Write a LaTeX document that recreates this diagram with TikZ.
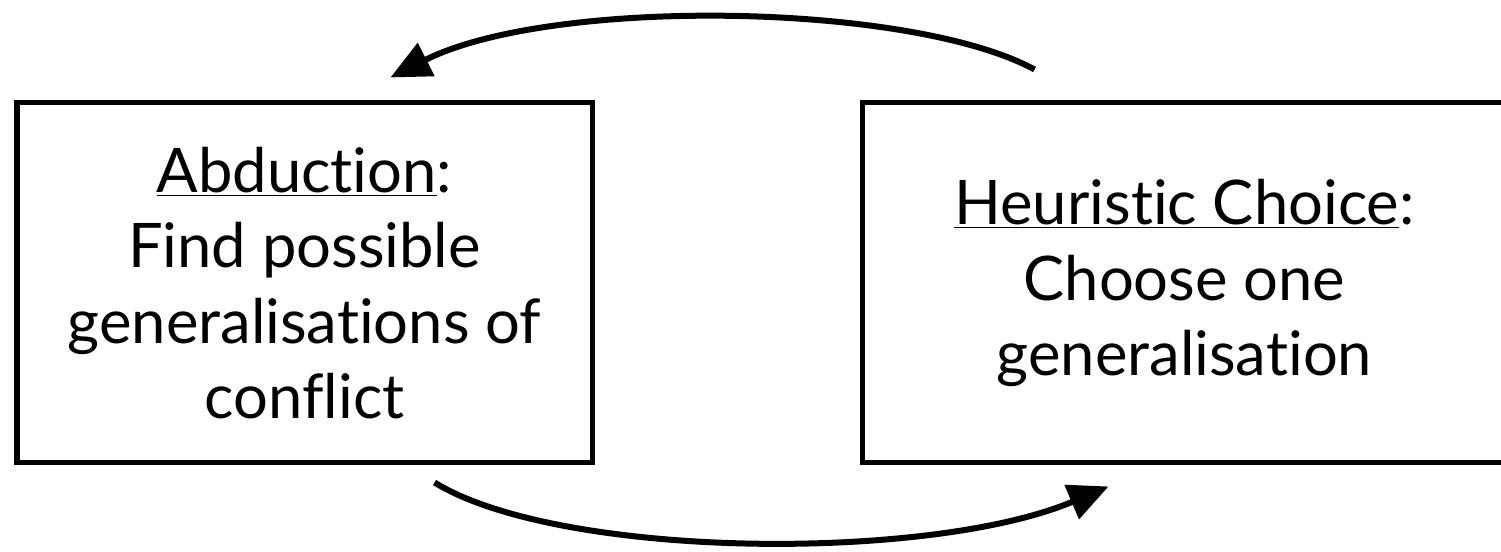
\documentclass[tikz,border=0pt]{standalone}
\usepackage{fontspec}
\setmainfont{Lato}[Ligatures=NoCommon]
\usepackage{tikz}
\usetikzlibrary{arrows.meta,positioning}

\begin{document}
\begin{tikzpicture}[
      every node/.style={font=\fontsize{35}{43}\selectfont},
      stagebox/.style={draw,line width=0.1cm,minimum height=7.2cm,align=center,inner sep=0pt},
      looparrow/.style={line width=0.12cm,-{Triangle[length=0.8cm,width=0.72cm]}},
  ]
    \useasboundingbox (0,0) rectangle (30.02,11.04);
    \node[stagebox,minimum width=11.5cm] (abduction) at (6.09,5.38)
      {\underline{Abduction}:\\Find possible\\generalisations of\\conflict};
    \node[stagebox,minimum width=12.9cm] (choice) at (23.69,5.38)
      {\underline{Heuristic Choice}:\\Choose one\\generalisation};

    % loop between the two stages
    \draw[looparrow] ([shift={(3.5,0.62)}]choice.north west)
      .. controls (18.2,11.0) and (11.0,11.1) .. ([shift={(7.52,0.46)}]abduction.north west);
    \draw[looparrow] ([shift={(-3.2,-0.34)}]abduction.south east)
      .. controls (11.2,-0.15) and (18.6,-0.2) .. ([shift={(4.98,-0.42)}]choice.south west);
\end{tikzpicture}
\end{document}
